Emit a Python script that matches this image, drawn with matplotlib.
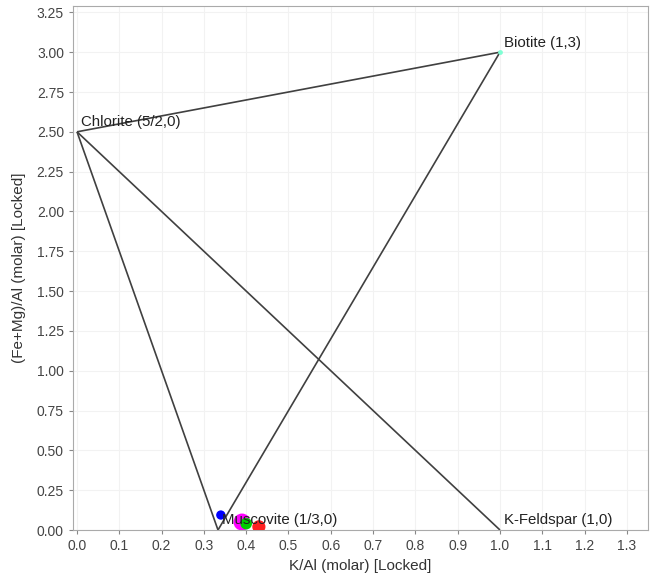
import matplotlib
matplotlib.use("Agg")
import matplotlib.pyplot as plt

plt.rcParams['font.family'] = ['Liberation Sans', 'DejaVu Sans']

# End-member phases (K/Al, (Fe+Mg)/Al)
phase_names = ["Chlorite (5/2,0)", "Biotite (1,3)", "Muscovite (1/3,0)", "K-Feldspar (1,0)"]
phase_x = [0.0, 1.0, 1/3, 1.0]
phase_y = [2.5, 3.0, 0.0, 0.0]

# Tie lines between phases (index pairs)
tie_lines = [(0, 1), (1, 2), (2, 0), (0, 3)]

# Sample analyses
sample_x = [0.34, 0.39, 0.40, 0.43]
sample_y = [0.094, 0.05, 0.04, 0.02]
sample_colors = ["#0000ff", "#ff00ff", "#00cc00", "#ff2020"]
sample_sizes = [45, 150, 70, 90]

x_ticks = [round(0.1 * i, 1) for i in range(14)]
y_ticks = [0.25 * i for i in range(14)]

fig = plt.figure(figsize=(6.54, 5.81), dpi=100)
ax = fig.add_axes([73/654, 51/581, (648-73)/654, (530-6)/581])

for a, b in tie_lines:
    ax.plot([phase_x[a], phase_x[b]], [phase_y[a], phase_y[b]],
            color="#404040", lw=1.2, zorder=2, solid_capstyle="butt")

ax.scatter([phase_x[1]], [phase_y[1]], s=12, color="#7fffd4", zorder=3, linewidths=0)

for name, x, y in zip(phase_names, phase_x, phase_y):
    ax.annotate(name, (x, y), xytext=(3, 4), textcoords="offset points",
                fontsize=10.8, color="#222222", zorder=5)

ax.scatter(sample_x, sample_y, s=sample_sizes, c=sample_colors, zorder=4, linewidths=0)

ax.set_xlim(-0.0095, 1.35)
ax.set_ylim(0, 3.29)
ax.set_xticks(x_ticks)
ax.set_xticklabels([f"{t:.1f}" for t in x_ticks])
ax.set_yticks(y_ticks)
ax.set_yticklabels([f"{t:.2f}" for t in y_ticks])
ax.grid(True, color="#f2f2f2", lw=0.8)
ax.set_axisbelow(True)
for s in ax.spines.values():
    s.set_color("#aaaaaa")
ax.tick_params(colors="#888888", labelcolor="#444444", labelsize=10, length=3)
ax.set_xlabel("K/Al (molar) [Locked]", fontsize=11, color="#333333", labelpad=4)
ax.set_ylabel("(Fe+Mg)/Al (molar) [Locked]", fontsize=11, color="#333333", labelpad=8)

fig.savefig("out.png", dpi=100)
